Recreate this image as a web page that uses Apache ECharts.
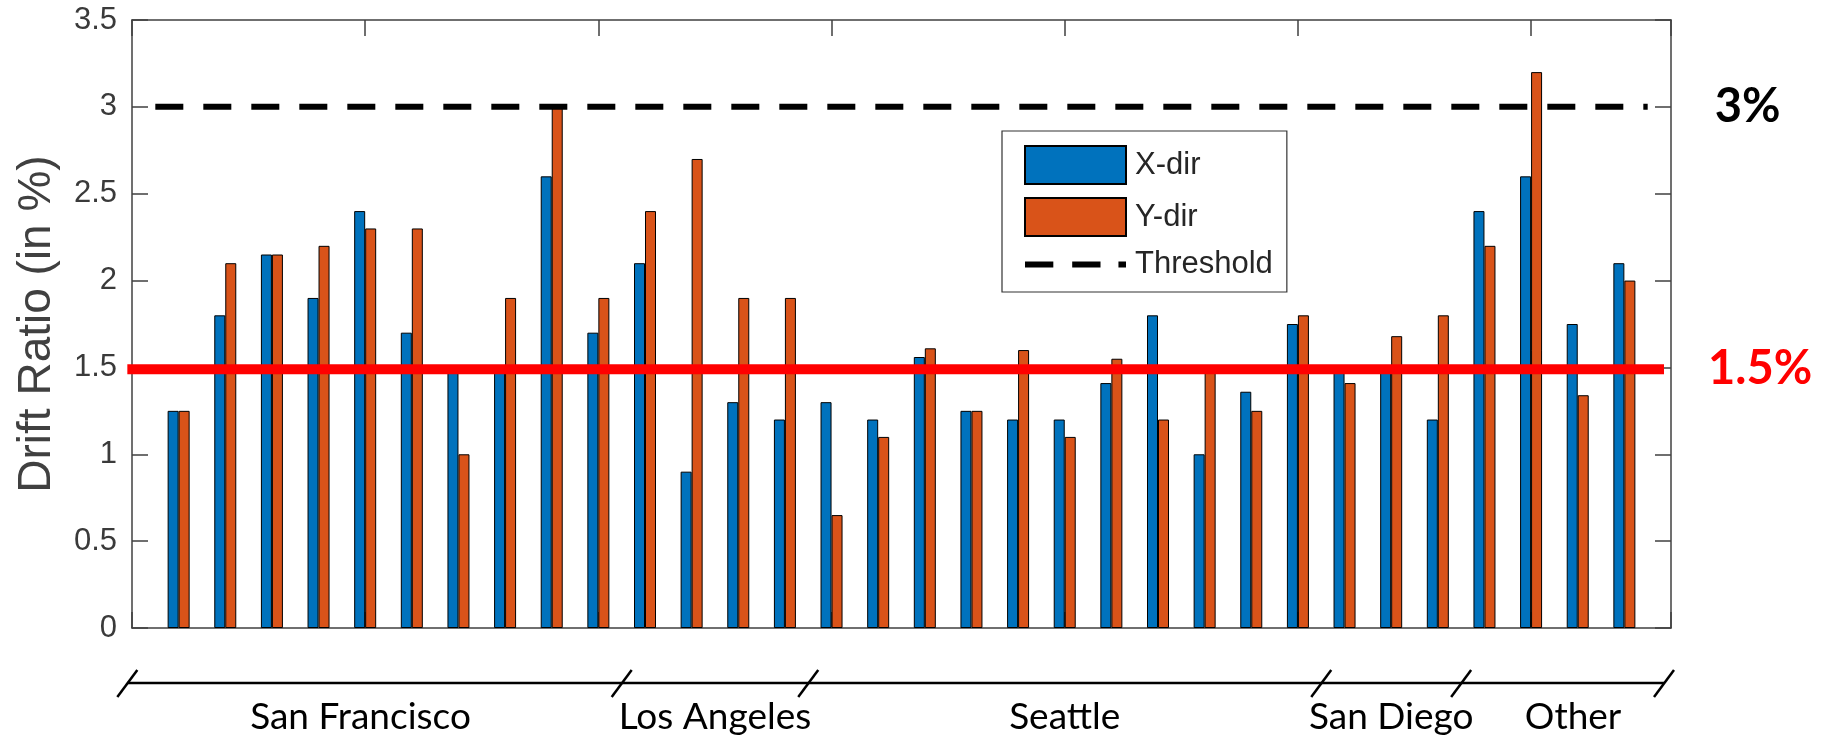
<!doctype html>
<html lang="en">

<head>
    <meta charset="UTF-8">
    <title>Drift Ratio</title>
    <style>
        body { margin: 0; background: #fff; }
    </style>
</head>

<body>
    <div id="main" style="width: 1824px;height:741px;"></div>
    <script src="https://cdn.jsdelivr.net/npm/echarts/dist/echarts.min.js"></script>
    <script>
        // drift ratio per building
        var xDir = [1.25, 1.8, 2.15, 1.9, 2.4, 1.7, 1.5, 1.5, 2.6, 1.7, 2.1, 0.9, 1.3, 1.2, 1.3, 1.2,
            1.56, 1.25, 1.2, 1.2, 1.41, 1.8, 1.0, 1.36, 1.75, 1.5, 1.5, 1.2, 2.4, 2.6, 1.75, 2.1];
        var yDir = [1.25, 2.1, 2.15, 2.2, 2.3, 2.3, 1.0, 1.9, 3.0, 1.9, 2.4, 2.7, 1.9, 1.9, 0.65, 1.1,
            1.61, 1.25, 1.6, 1.1, 1.55, 1.2, 1.5, 1.25, 1.8, 1.41, 1.68, 1.8, 2.2, 3.2, 1.34, 2.0];

        // threshold line (3%) and the red 1.5% line
        var thresholdLevel = 3;
        var thresholdSpan = [0.5, 32.5];
        var redLevel = 1.49;

        // city groups along the bottom
        var groupNames = ['San Francisco', 'Los Angeles', 'Seattle', 'San Diego', 'Other'];
        var groupBounds = [-0.1, 10.5, 14.5, 25.5, 28.5, 32.85];
        var groupLabelX = [4.9, 12.5, 20, 27, 30.9];

        var myChart = echarts.init(document.getElementById('main'));

        var axisColor = '#404040';
        var tickFont = 'Liberation Sans, Arial, Helvetica, sans-serif';

        var groupData = groupNames.map(function (name, i) {
            return [groupBounds[i], groupBounds[i + 1], groupLabelX[i], 0, i];
        });

        function renderGroup(params, api) {
            var start = api.coord([api.value(0), 0]);
            var end = api.coord([api.value(1), 0]);
            var mid = api.coord([api.value(2), 0]);
            var y = start[1] + 55;
            var children = [{
                type: 'line',
                shape: { x1: start[0], y1: y, x2: end[0], y2: y },
                style: { stroke: '#000', lineWidth: 2.5 }
            }, {
                type: 'line',
                shape: { x1: start[0] - 10, y1: y + 14, x2: start[0] + 10, y2: y - 13 },
                style: { stroke: '#000', lineWidth: 2.5 }
            }, {
                type: 'text',
                style: {
                    text: groupNames[api.value(4)],
                    x: mid[0], y: start[1] + 89,
                    align: 'center', verticalAlign: 'middle',
                    font: '37px Lato, "Noto Sans", sans-serif',
                    fill: '#000'
                }
            }];
            if (params.dataIndex === groupNames.length - 1) {
                children.push({
                    type: 'line',
                    shape: { x1: end[0] - 10, y1: y + 14, x2: end[0] + 10, y2: y - 13 },
                    style: { stroke: '#000', lineWidth: 2.5 }
                });
            }
            return { type: 'group', children: children };
        }

        function axisBase(extra) {
            var base = {
                type: 'value',
                axisLine: { show: true, onZero: false, lineStyle: { color: axisColor, width: 1.5 } },
                axisTick: { show: true, inside: true, length: 16, lineStyle: { color: axisColor, width: 1.5 } },
                axisLabel: { show: false },
                splitLine: { show: false }
            };
            return Object.assign(base, extra);
        }

        option = {
            animation: false,
            backgroundColor: '#fff',
            grid: {
                left: 132, right: 153, top: 20, bottom: 113,
                containLabel: false, outerBoundsMode: 'none'
            },
            legend: {
                orient: 'vertical',
                left: 1002, top: 131,
                padding: [14, 14, 12, 22],
                itemWidth: 101, itemHeight: 38, itemGap: 12,
                borderColor: '#333', borderWidth: 1.2,
                backgroundColor: '#fff',
                textStyle: { fontSize: 31, fontFamily: tickFont, color: '#262626', padding: [0, 0, 0, 4] },
                data: [
                    { name: 'X-dir', icon: 'rect' },
                    { name: 'Y-dir', icon: 'rect' },
                    {
                        name: 'Threshold',
                        icon: 'path://M0 0H30V6.5H0Z M50 0H80V6.5H50Z M99 0H107V6.5H99Z',
                        itemStyle: { color: '#000', borderWidth: 0 }
                    }
                ]
            },
            xAxis: [
                axisBase({ min: 0, max: 33, interval: 5 }),
                axisBase({ position: 'top', min: 0, max: 33, interval: 5 })
            ],
            yAxis: [
                axisBase({
                    min: 0, max: 3.5, interval: 0.5,
                    name: 'Drift Ratio (in %)', nameLocation: 'middle', nameGap: 72,
                    nameTextStyle: { fontSize: 46, fontFamily: tickFont, color: axisColor },
                    axisLabel: { show: true, fontSize: 31, fontFamily: tickFont, color: '#3a3a3a', margin: 15 }
                }),
                axisBase({ position: 'right', min: 0, max: 3.5, interval: 0.5 })
            ],
            series: [{
                name: 'X-dir',
                type: 'bar',
                barWidth: 11,
                barGap: '0%',
                itemStyle: { color: '#0072BD', borderColor: '#000', borderWidth: 1 },
                data: xDir.map(function (v, i) { return [i + 1, v]; })
            }, {
                name: 'Y-dir',
                type: 'bar',
                barWidth: 11,
                barGap: '0%',
                itemStyle: { color: '#D95319', borderColor: '#000', borderWidth: 1 },
                data: yDir.map(function (v, i) { return [i + 1, v]; })
            }, {
                name: 'Threshold',
                type: 'line',
                symbol: 'none',
                z: 5,
                lineStyle: { color: '#000', width: 6, type: [28, 20] },
                itemStyle: { color: '#000' },
                data: [[thresholdSpan[0], thresholdLevel], [thresholdSpan[1], thresholdLevel]],
                endLabel: {
                    show: true, formatter: '3%', distance: 67,
                    fontSize: 47, fontWeight: 'bold', fontFamily: 'Lato, sans-serif', color: '#000'
                }
            }, {
                name: 'limit',
                type: 'line',
                symbol: 'none',
                clip: false,
                z: 6,
                lineStyle: { color: '#ff0000', width: 10, type: 'solid' },
                itemStyle: { color: '#ff0000' },
                data: [[groupBounds[0], redLevel], [groupBounds[groupBounds.length - 1], redLevel]],
                endLabel: {
                    show: true, formatter: '1.5%', distance: 44,
                    fontSize: 47, fontWeight: 'bold', fontFamily: 'Lato, sans-serif', color: '#ff0000'
                }
            }, {
                name: 'groups',
                type: 'custom',
                silent: true,
                clip: false,
                renderItem: renderGroup,
                encode: { x: [0, 1, 2], y: 3 },
                data: groupData
            }]
        };

        myChart.setOption(option);
    </script>
</body>

</html>
